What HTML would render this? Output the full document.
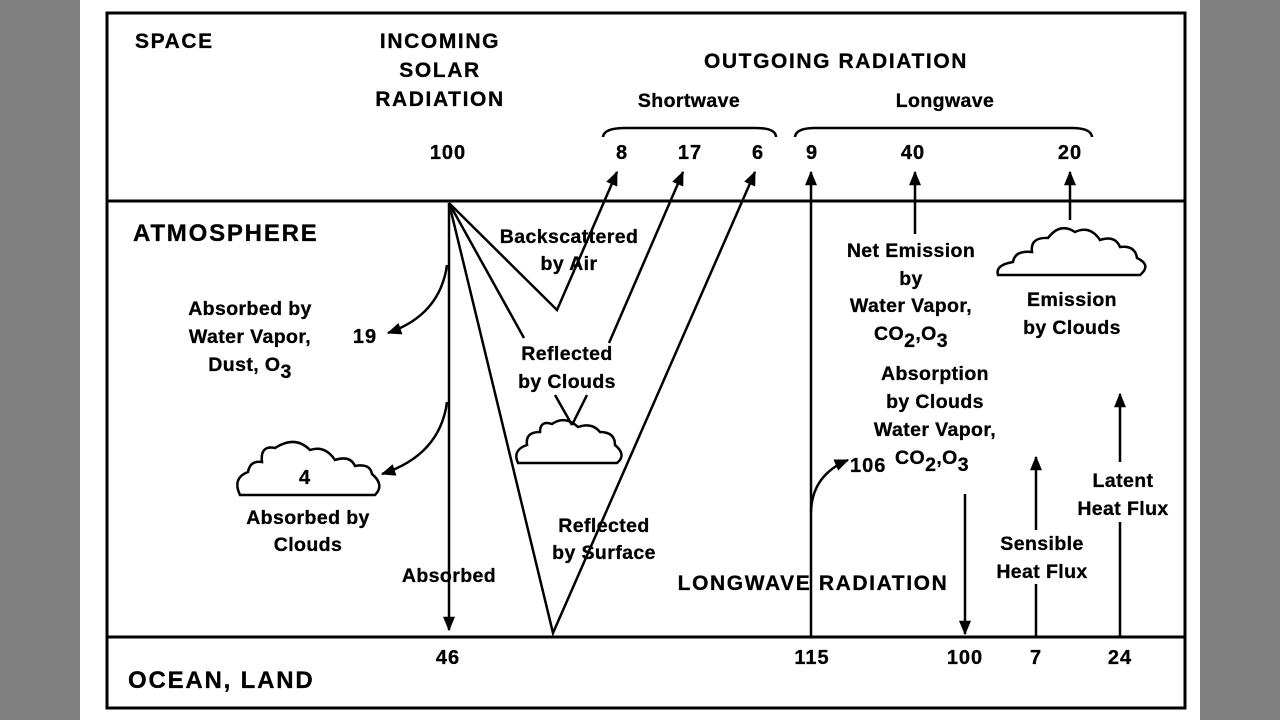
<!DOCTYPE html>
<html><head><meta charset="utf-8"><style>
html,body{margin:0;padding:0;background:#808080;}
svg{display:block;}
text{font-family:"Liberation Sans",sans-serif;font-weight:bold;font-size:19.5px;letter-spacing:0.4px;fill:#000;stroke:#000;stroke-width:0.3px;}
.m{text-anchor:middle;}
.c{font-size:21px;letter-spacing:1.6px;}
.L{font-size:24px;letter-spacing:1.8px;}
.n{font-size:20px;letter-spacing:1px;}
</style></head><body>
<svg width="1280" height="720" viewBox="0 0 1280 720" xmlns="http://www.w3.org/2000/svg">
<defs>
<marker id="b" viewBox="0 0 12 10" refX="11" refY="5" markerWidth="16" markerHeight="12" orient="auto" markerUnits="userSpaceOnUse"><path d="M0,0 L12,5 L0,10 z" fill="#000"/></marker>
</defs>
<rect x="80" y="0" width="1120" height="720" fill="#fff"/>
<rect x="107" y="13" width="1078" height="695" fill="none" stroke="#000" stroke-width="3"/>
<line x1="107" y1="201" x2="1185" y2="201" stroke="#000" stroke-width="3"/>
<line x1="107" y1="637" x2="1185" y2="637" stroke="#000" stroke-width="3"/>

<g fill="none" stroke="#000" stroke-width="2.5">
<line x1="449" y1="203" x2="449" y2="630" marker-end="url(#b)"/>
<path d="M447,265 Q440,315 388,333" marker-end="url(#b)"/>
<path d="M447,402 Q440,455 382,474" marker-end="url(#b)"/>
<polyline points="449,203 557,310 617,172" marker-end="url(#b)" stroke-linejoin="miter"/>
<line x1="449" y1="203" x2="524" y2="338"/>
<line x1="609" y1="343" x2="683" y2="172" marker-end="url(#b)"/>
<line x1="555" y1="395" x2="572" y2="425"/>
<line x1="587" y1="395" x2="572" y2="425"/>
<polyline points="449,203 553,633 755,172" marker-end="url(#b)"/>
<line x1="811" y1="636" x2="811" y2="172" marker-end="url(#b)"/>
<path d="M811,512 Q812,475 848,460" marker-end="url(#b)"/>
<line x1="915" y1="234" x2="915" y2="172" marker-end="url(#b)"/>
<line x1="1070" y1="220" x2="1070" y2="172" marker-end="url(#b)"/>
<line x1="965" y1="494" x2="965" y2="634" marker-end="url(#b)"/>
<line x1="1036" y1="636" x2="1036" y2="584"/>
<line x1="1036" y1="530" x2="1036" y2="457" marker-end="url(#b)"/>
<line x1="1120" y1="636" x2="1120" y2="522"/>
<line x1="1120" y1="462" x2="1120" y2="394" marker-end="url(#b)"/>
<path d="M603,137 Q604,128 625,128 L755,128 Q776,128 776,137"/>
<path d="M795,137 Q796,128 815,128 L1072,128 Q1091,128 1092,137"/>
<path d="M240,495 L375,495 Q385,485 372,474 Q370,463 355,466 Q350,455 335,460 Q325,445 310,450 Q295,435 275,448 Q260,445 262,462 Q250,460 248,472 Q232,478 240,495 z"/>
<path d="M518,463 L617,463 Q627,455 615,445 Q615,432 600,432 Q592,422 578,427 Q565,415 552,424 Q540,420 540,432 Q525,432 527,445 Q512,450 518,463 z"/>
<path d="M998,275 L1140,275 Q1152,265 1137,258 Q1135,245 1120,247 Q1115,235 1100,240 Q1090,225 1075,232 Q1060,222 1048,238 Q1030,237 1032,252 Q1015,250 1013,262 Q995,265 998,275 z"/>
</g>

<text x="135" y="48" class="c">SPACE</text>
<text x="440" y="48" class="m c">INCOMING</text>
<text x="440" y="77" class="m c">SOLAR</text>
<text x="440" y="106" class="m c">RADIATION</text>
<text x="836" y="68" class="m c">OUTGOING RADIATION</text>
<text x="689" y="107" class="m">Shortwave</text>
<text x="945" y="107" class="m">Longwave</text>
<text x="448" y="159" class="m n">100</text>
<text x="622" y="159" class="m n">8</text>
<text x="690" y="159" class="m n">17</text>
<text x="758" y="159" class="m n">6</text>
<text x="812" y="159" class="m n">9</text>
<text x="913" y="159" class="m n">40</text>
<text x="1070" y="159" class="m n">20</text>
<text x="133" y="241" class="L">ATMOSPHERE</text>
<text x="569" y="243" class="m">Backscattered</text>
<text x="569" y="270" class="m">by Air</text>
<text x="250" y="315" class="m">Absorbed by</text>
<text x="250" y="343" class="m">Water Vapor,</text>
<text x="250" y="371" class="m">Dust, O<tspan dy="7">3</tspan></text>
<text x="365" y="343" class="m n">19</text>
<text x="567" y="360" class="m">Reflected</text>
<text x="567" y="388" class="m">by Clouds</text>
<text x="305" y="484" class="m n">4</text>
<text x="308" y="524" class="m">Absorbed by</text>
<text x="308" y="551" class="m">Clouds</text>
<text x="449" y="582" class="m">Absorbed</text>
<text x="604" y="532" class="m">Reflected</text>
<text x="604" y="559" class="m">by Surface</text>
<text x="911" y="257" class="m">Net Emission</text>
<text x="911" y="285" class="m">by</text>
<text x="911" y="312" class="m">Water Vapor,</text>
<text x="911" y="340" class="m">CO<tspan dy="7">2</tspan><tspan dy="-7">,O</tspan><tspan dy="7">3</tspan></text>
<text x="1072" y="306" class="m">Emission</text>
<text x="1072" y="334" class="m">by Clouds</text>
<text x="935" y="380" class="m">Absorption</text>
<text x="935" y="408" class="m">by Clouds</text>
<text x="935" y="436" class="m">Water Vapor,</text>
<text x="850" y="472" class="n">106</text>
<text x="895" y="464">CO<tspan dy="7">2</tspan><tspan dy="-7">,O</tspan><tspan dy="7">3</tspan></text>
<text x="1123" y="487" class="m">Latent</text>
<text x="1123" y="515" class="m">Heat Flux</text>
<text x="1042" y="550" class="m">Sensible</text>
<text x="1042" y="578" class="m">Heat Flux</text>
<text x="813" y="590" class="m c">LONGWAVE RADIATION</text>
<text x="448" y="664" class="m n">46</text>
<text x="812" y="664" class="m n">115</text>
<text x="965" y="664" class="m n">100</text>
<text x="1036" y="664" class="m n">7</text>
<text x="1120" y="664" class="m n">24</text>
<text x="128" y="688" class="L">OCEAN, LAND</text>
</svg>
</body></html>
